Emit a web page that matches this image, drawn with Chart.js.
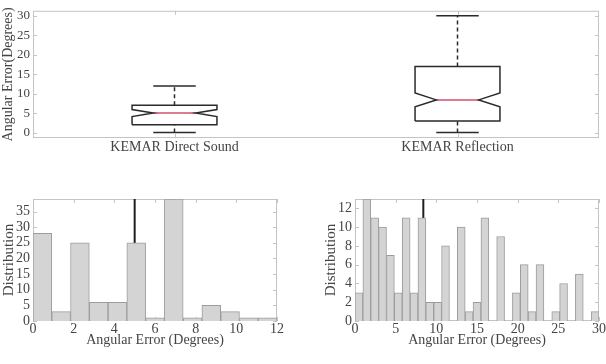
<!DOCTYPE html>
<html>
<head>
<meta charset="utf-8">
<script src="https://cdn.jsdelivr.net/npm/chart.js@4.4.1/dist/chart.umd.min.js"></script>
<style>
  body { margin: 0; background: #fff; width: 606px; height: 364px; position: relative; overflow: hidden; }
  .panel { position: absolute; }
</style>
</head>
<body>
<div class="panel" style="left:0;top:0;width:606px;height:165px"><canvas id="boxChart"></canvas></div>
<div class="panel" style="left:0;top:180px;width:300px;height:184px"><canvas id="histDirect"></canvas></div>
<div class="panel" style="left:300px;top:180px;width:306px;height:184px"><canvas id="histReflect"></canvas></div>
<script>
// box plot summary, one entry per group
var groups = ['KEMAR Direct Sound', 'KEMAR Reflection'];
var whiskerLow = [0, 0];
var quart1 = [2, 3];
var median = [5, 8.4];
var quart3 = [7, 17];
var whiskerHigh = [12, 30];
var notchLow = [4.1, 6.6];
var notchHigh = [5.9, 10.2];
var boxTicks = [0, 5, 10, 15, 20, 25, 30];

// histogram of direct sound errors: 13 bins over 0..12
var directRange = [0, 12];
var directCounts = [28, 3, 25, 6, 6, 25, 1, 39, 1, 5, 3, 1, 1];
var directXTicks = [0, 2, 4, 6, 8, 10, 12];
var directYTicks = [0, 5, 10, 15, 20, 25, 30, 35];

// histogram of reflection errors: 31 bins over 0..30
var reflectRange = [0, 30];
var reflectCounts = [3, 13, 11, 10, 7, 3, 11, 3, 11, 2, 2, 8, 0, 10, 1, 2, 11, 0, 9, 0, 3, 6, 1, 6, 0, 1, 4, 0, 5, 0, 1];
var reflectXTicks = [0, 5, 10, 15, 20, 25, 30];
var reflectYTicks = [0, 2, 4, 6, 8, 10, 12];

Chart.defaults.font.family = "'Liberation Serif', serif";
Chart.defaults.color = '#444';
Chart.defaults.animation = false;

// light frame with inward tick marks, like matlab axes
var framePlugin = {
    id: 'frame',
    beforeDatasetsDraw(chart) {
        var ctx = chart.ctx, a = chart.chartArea;
        var xs = chart.scales.x, ys = chart.scales.y;
        ctx.save();
        ctx.strokeStyle = '#c4c4c4';
        ctx.lineWidth = 1;
        ctx.strokeRect(a.left + 0.5, a.top + 0.5, a.right - a.left - 1, a.bottom - a.top - 1);
        ctx.beginPath();
        ys.ticks.forEach(function (t) {
            var y = Math.round(ys.getPixelForValue(t.value)) + 0.5;
            ctx.moveTo(a.left, y); ctx.lineTo(a.left + 4, y);
            ctx.moveTo(a.right, y); ctx.lineTo(a.right - 4, y);
        });
        xs.ticks.forEach(function (t) {
            var x = Math.round(xs.getPixelForValue(t.value)) + 0.5;
            ctx.moveTo(x, a.top); ctx.lineTo(x, a.top + 4);
            ctx.moveTo(x, a.bottom); ctx.lineTo(x, a.bottom - 4);
        });
        ctx.stroke();
        ctx.restore();
    }
};

function fixedTicks(values) {
    return function (scale) {
        scale.ticks = values.map(function (v) { return { value: v }; });
    };
}

function line(points, color, width, dash) {
    return {
        data: points, showLine: true, borderColor: color, borderWidth: width,
        borderDash: dash || [], pointRadius: 0, tension: 0, fill: false
    };
}

var noGrid = { display: false, drawTicks: false };

// ---- top: notched box plots ----
var hw = 0.15, nw = 0.075;
var boxSets = [];
groups.forEach(function (g, i) {
    var x = i + 1;
    boxSets.push(line([
        { x: x - hw, y: quart1[i] }, { x: x - hw, y: notchLow[i] }, { x: x - nw, y: median[i] },
        { x: x - hw, y: notchHigh[i] }, { x: x - hw, y: quart3[i] }, { x: x + hw, y: quart3[i] },
        { x: x + hw, y: notchHigh[i] }, { x: x + nw, y: median[i] }, { x: x + hw, y: notchLow[i] },
        { x: x + hw, y: quart1[i] }, { x: x - hw, y: quart1[i] }
    ], '#2a2a2a', 1.5));
    boxSets.push(line([{ x: x - nw, y: median[i] }, { x: x + nw, y: median[i] }], '#d0506e', 1.5));
    boxSets.push(line([{ x: x, y: quart3[i] }, { x: x, y: whiskerHigh[i] }], '#2a2a2a', 1.5, [4, 3]));
    boxSets.push(line([{ x: x, y: whiskerLow[i] }, { x: x, y: quart1[i] }], '#2a2a2a', 1.5, [4, 3]));
    boxSets.push(line([{ x: x - nw, y: whiskerHigh[i] }, { x: x + nw, y: whiskerHigh[i] }], '#2a2a2a', 1.5));
    boxSets.push(line([{ x: x - nw, y: whiskerLow[i] }, { x: x + nw, y: whiskerLow[i] }], '#2a2a2a', 1.5));
});

new Chart(document.getElementById('boxChart'), {
    type: 'scatter',
    data: { datasets: boxSets },
    options: {
        responsive: true, maintainAspectRatio: false,
        layout: { padding: { top: 4, right: 7, left: 0, bottom: 0 } },
        plugins: { legend: { display: false }, tooltip: { enabled: false } },
        scales: {
            x: {
                type: 'linear', min: 0.5, max: 2.5,
                afterBuildTicks: fixedTicks([1, 2]),
                afterFit: function (s) { s.height = 27; },
                grid: noGrid,
                border: { display: false },
                ticks: { padding: 1, autoSkip: false, font: { size: 14 }, callback: function (v) { return groups[v - 1]; } }
            },
            y: {
                min: -1.4, max: 31.3,
                afterBuildTicks: fixedTicks(boxTicks),
                afterFit: function (s) { s.width = 33; },
                grid: noGrid,
                border: { display: false },
                ticks: { padding: 3, autoSkip: false, font: { size: 13 } },
                title: { display: true, text: 'Angular Error(Degrees)', font: { size: 14 }, padding: 0 }
            }
        }
    },
    plugins: [framePlugin]
});

// ---- bottom: histograms ----
function histogram(id, range, counts, xTicks, yTicks, yMax, mid, padLeft, padRight, axisW) {
    var w = (range[1] - range[0]) / counts.length;
    var bars = counts.map(function (c, i) { return { x: range[0] + (i + 0.5) * w, y: c }; });
    new Chart(document.getElementById(id), {
        type: 'bar',
        data: {
            datasets: [{
                data: bars, backgroundColor: '#d4d4d4', borderColor: '#9c9c9c', borderWidth: 1,
                borderSkipped: 'start', barPercentage: 1, categoryPercentage: 1
            }, {
                type: 'line', data: [{ x: mid, y: 0 }, { x: mid, y: yMax }],
                borderColor: '#1e1e1e', borderWidth: 2, pointRadius: 0, fill: false
            }]
        },
        options: {
            responsive: true, maintainAspectRatio: false,
            layout: { padding: { top: 19, right: padRight, left: padLeft, bottom: 15 } },
            plugins: { legend: { display: false }, tooltip: { enabled: false } },
            scales: {
                x: {
                    type: 'linear', min: range[0], max: range[1], offset: false,
                    afterBuildTicks: fixedTicks(xTicks),
                    afterFit: function (s) { s.height = 28; },
                    grid: noGrid,
                    border: { display: false },
                    ticks: { padding: 0, autoSkip: false, maxRotation: 0, font: { size: 14 } },
                    title: { display: true, text: 'Angular Error (Degrees)', font: { size: 14 }, padding: 0 }
                },
                y: {
                    min: 0, max: yMax,
                    afterBuildTicks: fixedTicks(yTicks),
                    afterFit: function (s) { s.width = axisW; },
                    grid: noGrid,
                    border: { display: false },
                    ticks: { padding: 3, autoSkip: false, font: { size: 14 } },
                    title: { display: true, text: 'Distribution', font: { size: 15 }, padding: 0 }
                }
            }
        },
        plugins: [framePlugin]
    });
}

histogram('histDirect', directRange, directCounts, directXTicks, directYTicks, 39, median[0], 0, 23, 33);
histogram('histReflect', reflectRange, reflectCounts, reflectXTicks, reflectYTicks, 13, median[1], 22, 7, 33);
</script>
</body>
</html>
